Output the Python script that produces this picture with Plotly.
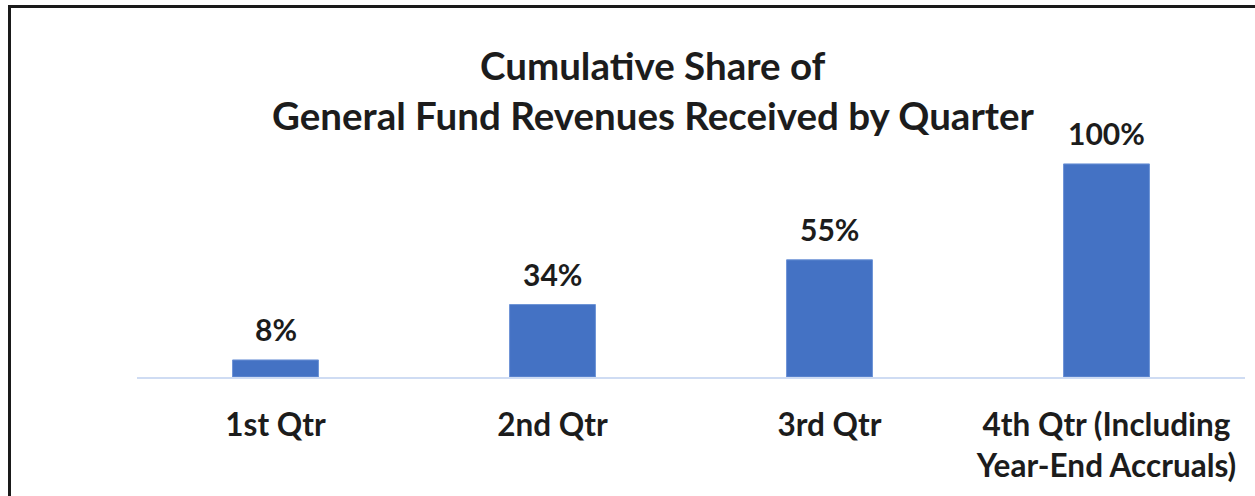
import plotly.graph_objects as go

categories = ["1st Qtr", "2nd Qtr", "3rd Qtr", "4th Qtr (Including<br>Year-End Accruals)"]
values = [8, 34, 55, 100]
value_labels = ["8%", "34%", "55%", "100%"]
title_lines = ["Cumulative Share of", "General Fund Revenues Received by Quarter"]

W, H = 1255, 496
L, R, T, B = 137, 10, 100, 119
pw, ph = W - L - R, H - T - B

def px_x(x):
    return (x - L) / pw

def px_y(y):
    return (H - B - y) / ph

FONT = "Lato"
TXT = "#1c1c1c"

fig = go.Figure()
fig.add_trace(go.Bar(
    x=categories, y=values,
    marker=dict(color="#4472c4", line=dict(color="#6d93d6", width=1)),
    hoverinfo="skip",
))

annotations = []
for c, v, lab in zip(categories, values, value_labels):
    annotations.append(dict(
        x=c, y=v, xref="x", yref="y", text="<b>%s</b>" % lab,
        showarrow=False, yanchor="bottom", yshift=11,
        font=dict(family=FONT, size=30, color=TXT),
    ))
for i, (line, yc) in enumerate(zip(title_lines, [65, 115])):
    annotations.append(dict(
        x=px_x(653), y=px_y(yc), xref="paper", yref="paper",
        text="<b>%s</b>" % line, showarrow=False,
        xanchor="center", yanchor="middle",
        font=dict(family=FONT, size=38.5, color=TXT),
    ))

shapes = [
    dict(type="line", xref="paper", yref="paper",
         x0=px_x(9.5), x1=px_x(9.5), y0=px_y(6.5), y1=px_y(520),
         line=dict(color="#1a1a1a", width=3)),
    dict(type="line", xref="paper", yref="paper",
         x0=px_x(8), x1=px_x(1270), y0=px_y(6.5), y1=px_y(6.5),
         line=dict(color="#1a1a1a", width=3)),
]

fig.update_layout(
    width=W, height=H,
    margin=dict(l=L, r=R, t=T, b=B),
    paper_bgcolor="white", plot_bgcolor="white",
    showlegend=False,
    bargap=0.69,
    annotations=annotations,
    shapes=shapes,
    font=dict(family=FONT, color=TXT),
)
fig.update_xaxes(
    showgrid=False, zeroline=False,
    showline=True, linecolor="#cfdcf3", linewidth=2,
    ticks="", ticklabelstandoff=19,
    tickfont=dict(family=FONT, size=31.5, color=TXT),
    tickprefix="<b>", ticksuffix="</b>",
)
fig.update_yaxes(
    range=[0, 130], visible=False, showgrid=False, zeroline=False,
)

fig.write_html("out.html", config={"displayModeBar": False},
               post_script="document.body.style.margin='0';")
